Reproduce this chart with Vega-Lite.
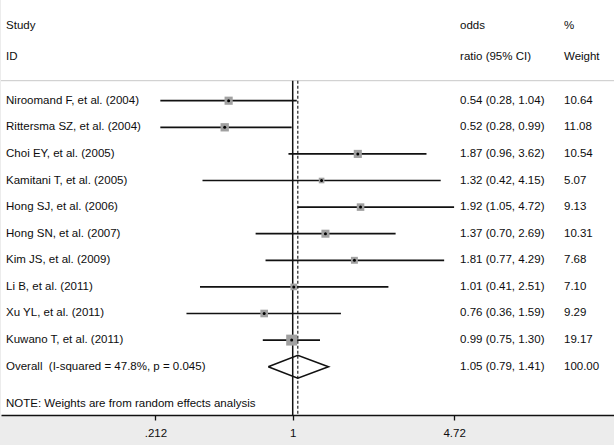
{
  "$schema": "https://vega.github.io/schema/vega-lite/v6.json",
  "width": 614,
  "height": 415,
  "padding": {"left": 0, "right": 0, "top": 0, "bottom": 7},
  "background": "#ececec",
  "view": {"fill": "white", "stroke": null},
  "config": {"font": "Liberation Sans", "text": {"font": "Liberation Sans", "fontSize": 11.5, "color": "#0d0d0d"}},
  "datasets": {
    "studies": [
      {"row": 1, "study": "Niroomand F, et al. (2004)", "or": 0.54, "lo": 0.28, "hi": 1.04, "ci": "0.54 (0.28, 1.04)", "weight": 10.64},
      {"row": 2, "study": "Rittersma SZ, et al. (2004)", "or": 0.52, "lo": 0.28, "hi": 0.99, "ci": "0.52 (0.28, 0.99)", "weight": 11.08},
      {"row": 3, "study": "Choi EY, et al. (2005)", "or": 1.87, "lo": 0.96, "hi": 3.62, "ci": "1.87 (0.96, 3.62)", "weight": 10.54},
      {"row": 4, "study": "Kamitani T, et al. (2005)", "or": 1.32, "lo": 0.42, "hi": 4.15, "ci": "1.32 (0.42, 4.15)", "weight": 5.07},
      {"row": 5, "study": "Hong SJ, et al. (2006)", "or": 1.92, "lo": 1.05, "hi": 4.72, "ci": "1.92 (1.05, 4.72)", "weight": 9.13},
      {"row": 6, "study": "Hong SN, et al. (2007)", "or": 1.37, "lo": 0.70, "hi": 2.69, "ci": "1.37 (0.70, 2.69)", "weight": 10.31},
      {"row": 7, "study": "Kim JS, et al. (2009)", "or": 1.81, "lo": 0.77, "hi": 4.29, "ci": "1.81 (0.77, 4.29)", "weight": 7.68},
      {"row": 8, "study": "Li B, et al. (2011)", "or": 1.01, "lo": 0.41, "hi": 2.51, "ci": "1.01 (0.41, 2.51)", "weight": 7.10},
      {"row": 9, "study": "Xu YL, et al. (2011)", "or": 0.76, "lo": 0.36, "hi": 1.59, "ci": "0.76 (0.36, 1.59)", "weight": 9.29},
      {"row": 10, "study": "Kuwano T, et al. (2011)", "or": 0.99, "lo": 0.75, "hi": 1.30, "ci": "0.99 (0.75, 1.30)", "weight": 19.17}
    ],
    "overall": [
      {"row": 11, "study": "Overall\u00a0\u00a0(I-squared = 47.8%, p = 0.045)", "ci": "1.05 (0.79, 1.41)", "weight": 100.00}
    ],
    "diamond": [
      {"k": 1, "x": 0.79, "y": 11},
      {"k": 2, "x": 1.05, "y": 10.57},
      {"k": 3, "x": 1.41, "y": 11},
      {"k": 4, "x": 1.05, "y": 11.43},
      {"k": 5, "x": 0.79, "y": 11}
    ],
    "headers": [
      {"row": -1.81, "col": "study", "label": "Study"},
      {"row": -0.64, "col": "study", "label": "ID"},
      {"row": -1.81, "col": "ci", "label": "odds"},
      {"row": -0.64, "col": "ci", "label": "ratio (95% CI)"},
      {"row": -1.81, "col": "weight", "label": "%"},
      {"row": -0.64, "col": "weight", "label": "Weight"},
      {"row": 12.4, "col": "study", "label": "NOTE: Weights are from random effects analysis"}
    ]
  },
  "layer": [
    {
      "data": {"values": [{}]},
      "mark": {"type": "rule", "color": "#c8c8c8", "strokeWidth": 1},
      "encoding": {
        "y": {"datum": 0.248, "type": "quantitative", "scale": {"domain": [-2.786, 12.816], "reverse": true, "nice": false, "zero": false}, "axis": null},
        "x": {"datum": 0.0605, "type": "quantitative", "scale": {"type": "log", "domain": [0.0605, 22.18], "nice": false}, "axis": {"title": null, "values": [0.267, 1, 4.72], "labelExpr": "datum.value < 0.5 ? '.212' : datum.value == 1 ? '1' : '4.72'", "domainColor": "#111", "domainWidth": 1.5, "tickColor": "#111", "tickSize": 5, "tickWidth": 1.3, "labelPadding": 7, "labelFont": "Liberation Sans", "labelFontSize": 11.5, "labelColor": "#0d0d0d", "grid": false, "labelFlush": false}},
        "x2": {"datum": 22.18}
      }
    },
    {
      "data": {"values": [{}]},
      "mark": {"type": "rule", "color": "#111", "strokeWidth": 1.5},
      "encoding": {"x": {"datum": 1}, "y": {"datum": 0.248}, "y2": {"datum": 12.816}}
    },
    {
      "data": {"values": [{}]},
      "mark": {"type": "rule", "color": "#333", "strokeWidth": 1.3, "strokeDash": [3, 2]},
      "encoding": {"x": {"datum": 1.05}, "y": {"datum": 0.248}, "y2": {"datum": 12.816}}
    },
    {
      "data": {"name": "studies"},
      "mark": {"type": "rule", "color": "#111", "strokeWidth": 1.7},
      "encoding": {"x": {"field": "lo", "type": "quantitative"}, "x2": {"field": "hi"}, "y": {"field": "row", "type": "quantitative"}}
    },
    {
      "data": {"name": "studies"},
      "mark": {"type": "point", "shape": "square", "filled": true, "color": "#a0a0a0", "opacity": 1},
      "encoding": {"x": {"field": "or", "type": "quantitative"}, "y": {"field": "row", "type": "quantitative"}, "size": {"field": "weight", "type": "quantitative", "scale": {"type": "linear", "domain": [0, 20], "range": [0, 125]}, "legend": null}}
    },
    {
      "data": {"name": "studies"},
      "mark": {"type": "point", "shape": "circle", "filled": true, "color": "#000", "size": 9, "opacity": 1},
      "encoding": {"x": {"field": "or", "type": "quantitative"}, "y": {"field": "row", "type": "quantitative"}}
    },
    {
      "data": {"name": "diamond"},
      "mark": {"type": "line", "color": "#111", "strokeWidth": 1.6},
      "encoding": {"x": {"field": "x", "type": "quantitative"}, "y": {"field": "y", "type": "quantitative"}, "order": {"field": "k"}}
    },
    {
      "data": {"name": "studies"},
      "mark": {"type": "text", "align": "left", "baseline": "middle"},
      "encoding": {"x": {"datum": 0.0635}, "y": {"field": "row", "type": "quantitative"}, "text": {"field": "study"}}
    },
    {
      "data": {"name": "studies"},
      "mark": {"type": "text", "align": "left", "baseline": "middle"},
      "encoding": {"x": {"datum": 5.0}, "y": {"field": "row", "type": "quantitative"}, "text": {"field": "ci"}}
    },
    {
      "data": {"name": "studies"},
      "mark": {"type": "text", "align": "left", "baseline": "middle"},
      "encoding": {"x": {"datum": 13.58}, "y": {"field": "row", "type": "quantitative"}, "text": {"field": "weight", "format": ".2f"}}
    },
    {
      "data": {"name": "overall"},
      "mark": {"type": "text", "align": "left", "baseline": "middle"},
      "encoding": {"x": {"datum": 0.0635}, "y": {"field": "row", "type": "quantitative"}, "text": {"field": "study"}}
    },
    {
      "data": {"name": "overall"},
      "mark": {"type": "text", "align": "left", "baseline": "middle"},
      "encoding": {"x": {"datum": 5.0}, "y": {"field": "row", "type": "quantitative"}, "text": {"field": "ci"}}
    },
    {
      "data": {"name": "overall"},
      "mark": {"type": "text", "align": "left", "baseline": "middle"},
      "encoding": {"x": {"datum": 13.58}, "y": {"field": "row", "type": "quantitative"}, "text": {"field": "weight", "format": ".2f"}}
    },
    {
      "data": {"name": "headers"},
      "transform": [{"filter": "datum.col == 'study'"}],
      "mark": {"type": "text", "align": "left", "baseline": "middle"},
      "encoding": {"x": {"datum": 0.0635}, "y": {"field": "row", "type": "quantitative"}, "text": {"field": "label"}}
    },
    {
      "data": {"name": "headers"},
      "transform": [{"filter": "datum.col == 'ci'"}],
      "mark": {"type": "text", "align": "left", "baseline": "middle"},
      "encoding": {"x": {"datum": 5.0}, "y": {"field": "row", "type": "quantitative"}, "text": {"field": "label"}}
    },
    {
      "data": {"name": "headers"},
      "transform": [{"filter": "datum.col == 'weight'"}],
      "mark": {"type": "text", "align": "left", "baseline": "middle"},
      "encoding": {"x": {"datum": 13.58}, "y": {"field": "row", "type": "quantitative"}, "text": {"field": "label"}}
    }
  ]
}
